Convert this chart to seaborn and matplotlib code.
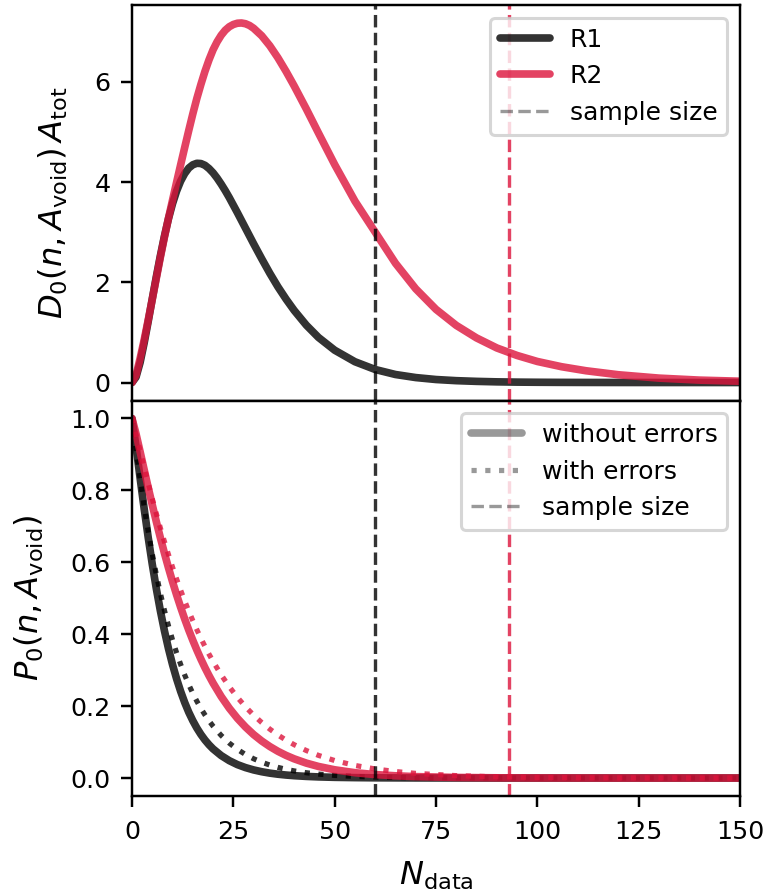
import numpy as np
import pandas as pd
import seaborn as sns
import matplotlib
matplotlib.use("Agg")
import matplotlib.pyplot as plt
from matplotlib.lines import Line2D

# ---- void-size density, D0(n, A_void) * A_tot ----
n_d0 = [0, 1, 2, 3, 4, 5, 6, 7, 8, 9, 10, 11, 12, 13, 14, 15, 16, 17, 18, 19, 20,
        21, 22, 23, 24, 25, 26, 27, 28, 29, 30, 32, 34, 36, 38, 40, 43, 46, 50, 55,
        60, 65, 70, 75, 80, 85, 90, 95, 100, 106, 112, 120, 130, 140, 150]
d0_r1 = [0, 0.11, 0.40, 0.79, 1.22, 1.67, 2.11, 2.53, 2.92, 3.27, 3.57, 3.82, 4.02,
         4.17, 4.28, 4.345, 4.375, 4.37, 4.335, 4.27, 4.185, 4.08, 3.96, 3.83, 3.69,
         3.54, 3.39, 3.235, 3.08, 2.925, 2.77, 2.47, 2.18, 1.91, 1.665, 1.44, 1.145,
         0.90, 0.645, 0.415, 0.26, 0.16, 0.099, 0.06, 0.037, 0.023, 0.0135, 0.008,
         0.005, 0.0028, 0.0015, 0.0006, 0.0002, 0.0001, 0.0]
d0_r2 = [0, 0.15, 0.48, 0.85, 1.25, 1.66, 2.08, 2.50, 2.90, 3.28, 3.64, 3.995, 4.345,
         4.69, 5.03, 5.36, 5.67, 5.95, 6.21, 6.44, 6.64, 6.80, 6.93, 7.03, 7.10,
         7.145, 7.17, 7.175, 7.16, 7.125, 7.07, 6.92, 6.72, 6.48, 6.21, 5.92, 5.46,
         4.98, 4.35, 3.62, 3.0, 2.38, 1.87, 1.46, 1.14, 0.89, 0.69, 0.54, 0.42,
         0.315, 0.235, 0.155, 0.088, 0.048, 0.026]

# ---- void probability, P0(n, A_void) ----
n_p0 = [0, 1, 2, 3, 4, 5, 6, 7, 8, 9, 10, 11, 12, 13, 14, 15, 16, 17, 18, 19, 20,
        22, 24, 26, 28, 30, 32, 34, 36, 38, 40, 43, 46, 50, 55, 60, 65, 70, 80, 90,
        100, 110, 120, 135, 150]
p0_r1 = [1.0, 0.9216, 0.8343, 0.7490, 0.6688, 0.5946, 0.5267, 0.4651, 0.4096, 0.3598,
         0.3154, 0.2760, 0.2410, 0.2101, 0.1829, 0.1595, 0.1390, 0.1212, 0.1058,
         0.0925, 0.0810, 0.0625, 0.0483, 0.0373, 0.0290, 0.0225, 0.0175, 0.0136,
         0.0106, 0.0083, 0.0065, 0.0045, 0.0031, 0.0019, 0.0011, 0.0006, 0.0004,
         0.0002, 0.0001, 0, 0, 0, 0, 0, 0]
p0_r1_err = [1.0, 0.9121, 0.8301, 0.7548, 0.6860, 0.6232, 0.5659, 0.5138, 0.4664,
             0.4232, 0.3840, 0.3484, 0.3160, 0.2866, 0.2598, 0.2356, 0.2136, 0.1936,
             0.1755, 0.1591, 0.1442, 0.1184, 0.0971, 0.0797, 0.0654, 0.0536, 0.0440,
             0.0361, 0.0296, 0.0242, 0.0198, 0.0147, 0.0109, 0.0073, 0.0045, 0.0027,
             0.0016, 0.0010, 0.0004, 0.0002, 0.0001, 0, 0, 0, 0]
p0_r2 = [1.0, 0.957, 0.9076, 0.8575, 0.8079, 0.7597, 0.7130, 0.6682, 0.6254, 0.5847,
         0.5460, 0.5095, 0.4750, 0.4424, 0.4117, 0.3830, 0.3560, 0.3306, 0.3069,
         0.2848, 0.2641, 0.2267, 0.1942, 0.1661, 0.1419, 0.1209, 0.1030, 0.0876,
         0.0743, 0.0630, 0.0534, 0.0415, 0.0322, 0.0229, 0.0148, 0.0096, 0.0062,
         0.0039, 0.0016, 0.0006, 0.0002, 0.0001, 0, 0, 0]
p0_r2_err = [1.0, 0.9564, 0.9102, 0.8644, 0.8198, 0.7767, 0.7352, 0.6954, 0.6575,
             0.6212, 0.5865, 0.5536, 0.5224, 0.4926, 0.4645, 0.4378, 0.4125, 0.3886,
             0.3659, 0.3445, 0.3242, 0.2870, 0.2539, 0.2244, 0.1981, 0.1749, 0.1543,
             0.1360, 0.1197, 0.1054, 0.0927, 0.0765, 0.0630, 0.0486, 0.0350, 0.0252,
             0.0180, 0.0129, 0.0066, 0.0034, 0.0017, 0.0009, 0.0004, 0.0001, 0]

# sample sizes of the two regions
regions = ["R1", "R2"]
sample_size = [60, 93]
palette = {"R1": "black", "R2": "crimson"}

sns.set_style("ticks", rc={"axes.edgecolor": "black", "xtick.color": "black",
                           "ytick.color": "black", "text.color": "black",
                           "axes.labelcolor": "black"})
plt.rcParams.update({
    "font.family": ["DejaVu Sans"],
    "font.size": 8,
    "axes.labelsize": 10.5,
    "xtick.labelsize": 8.3,
    "ytick.labelsize": 8.3,
    "legend.fontsize": 8.2,
    "axes.linewidth": 0.8,
    "xtick.major.width": 0.8,
    "ytick.major.width": 0.8,
    "xtick.major.size": 3.5,
    "ytick.major.size": 3.5,
    "xtick.major.pad": 4.5,
    "mathtext.fontset": "dejavusans",
})

fig, (ax1, ax2) = plt.subplots(2, 1, sharex=True, figsize=(771 / 220, 895 / 220), dpi=220)
fig.subplots_adjust(left=132 / 771, right=740 / 771, top=1 - 5 / 895,
                    bottom=1 - 796 / 895, hspace=0)

alpha = 0.8
lw = 2.5
lw_dot = 1.7
lw_vline = 1.1

# upper panel: one long table, one line per region
d0 = pd.DataFrame({
    "n": n_d0 * 2,
    "D0": d0_r1 + d0_r2,
    "region": ["R1"] * len(n_d0) + ["R2"] * len(n_d0),
})
sns.lineplot(data=d0, x="n", y="D0", hue="region", palette=palette, lw=lw,
             alpha=alpha, legend=False, ax=ax1)

# lower panel: exact (solid) and error-convolved (dotted) probabilities
p0 = pd.DataFrame({
    "n": n_p0 * 2,
    "exact": p0_r1 + p0_r2,
    "errors": p0_r1_err + p0_r2_err,
    "region": ["R1"] * len(n_p0) + ["R2"] * len(n_p0),
})
for reg in regions:
    sub = p0[p0["region"] == reg]
    sns.lineplot(data=sub, x="n", y="exact", color=palette[reg], lw=lw,
                 alpha=alpha, ax=ax2)
    sns.lineplot(data=sub, x="n", y="errors", color=palette[reg], lw=lw_dot,
                 alpha=alpha, linestyle=":", ax=ax2)

for ax in (ax1, ax2):
    for reg, size in zip(regions, sample_size):
        ax.axvline(size, color=palette[reg], ls="--", lw=lw_vline, alpha=alpha)
    ax.set_xlim(0, 150)

ax1.tick_params(axis="x", bottom=False)
ax1.set_yticks([0, 2, 4, 6])
ax2.set_xticks([0, 25, 50, 75, 100, 125, 150])
ax2.set_yticks([0.0, 0.2, 0.4, 0.6, 0.8, 1.0])

ax1.set_ylabel(r"$D_0(n, A_{\rm void})\,A_{\rm tot}$", labelpad=8)
ax2.set_ylabel(r"$P_0(n, A_{\rm void})$", labelpad=8)
ax2.set_xlabel(r"$N_{\rm data}$", labelpad=5)
ax1.set_xlabel("")

grey = (0, 0, 0, 0.4)
h1 = [Line2D([], [], color=palette["R1"], lw=lw, alpha=alpha),
      Line2D([], [], color=palette["R2"], lw=lw, alpha=alpha),
      Line2D([], [], color=grey, lw=lw_vline, ls="--")]
ax1.legend(h1, ["R1", "R2", "sample size"], loc="upper right")

h2 = [Line2D([], [], color=grey, lw=lw),
      Line2D([], [], color=grey, lw=lw_dot, ls=":"),
      Line2D([], [], color=grey, lw=lw_vline, ls="--")]
ax2.legend(h2, ["without errors", "with errors", "sample size"], loc="upper right")

fig.savefig("out.png", dpi=220)
